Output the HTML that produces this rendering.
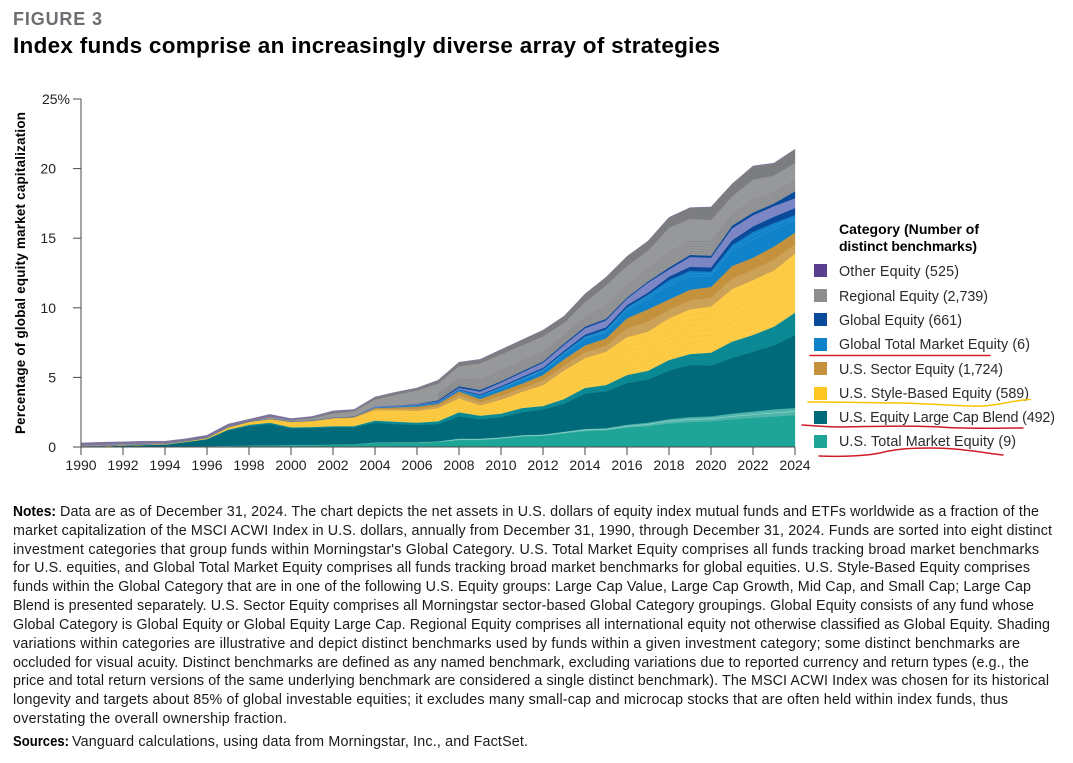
<!DOCTYPE html>
<html lang="en">
<head>
<meta charset="utf-8">
<title>Figure 3 - Index funds comprise an increasingly diverse array of strategies</title>
<style>
html,body{margin:0;padding:0;background:#fff;}
svg{display:block;font-family:"Liberation Sans",sans-serif;}
.n{font-size:14.3px;fill:#1a1a1a;}
.b{font-weight:bold;fill:#000;}
.l{font-size:14.3px;fill:#2a2a2a;}
.t{font-size:14px;fill:#222;}
</style>
</head>
<body>
<svg id="chart" width="1073" height="763" viewBox="0 0 1073 763" xmlns="http://www.w3.org/2000/svg">
  <rect width="1073" height="763" fill="#fff"/>
  <text x="13" y="25" font-size="18" font-weight="bold" fill="#6d6e71" textLength="89">FIGURE 3</text>
  <text x="13" y="53" font-size="22.5" font-weight="bold" fill="#000" textLength="707">Index funds comprise an increasingly diverse array of strategies</text>
  <text transform="translate(25,434) rotate(-90)" font-size="13.4" font-weight="bold" fill="#000" textLength="322">Percentage of global equity market capitalization</text>

  <g id="areas"></g>
  <g id="axes"></g>

  <g>
    <text x="839" y="234" font-size="14" font-weight="bold" fill="#000" textLength="140">Category (Number of</text>
    <text x="839" y="251" font-size="14" font-weight="bold" fill="#000" textLength="138">distinct benchmarks)</text>
    <rect x="814" y="264" width="13" height="13" fill="#5b3f8f"/>
    <text class="l" x="839" y="276" textLength="120">Other Equity (525)</text>
    <rect x="814" y="289" width="13" height="13" fill="#8c8d8f"/>
    <text class="l" x="839" y="301" textLength="149">Regional Equity (2,739)</text>
    <rect x="814" y="313" width="13" height="13" fill="#0a4a9a"/>
    <text class="l" x="839" y="325" textLength="123">Global Equity (661)</text>
    <rect x="814" y="338" width="13" height="13" fill="#0f82c9"/>
    <text class="l" x="839" y="349" textLength="191">Global Total Market Equity (6)</text>
    <rect x="814" y="362" width="13" height="13" fill="#c4923c"/>
    <text class="l" x="839" y="374" textLength="164">U.S. Sector Equity (1,724)</text>
    <rect x="814" y="387" width="13" height="13" fill="#fdc620"/>
    <text class="l" x="839" y="398" textLength="190">U.S. Style-Based Equity (589)</text>
    <rect x="814" y="411" width="13" height="13" fill="#006a7a"/>
    <text class="l" x="839" y="422" textLength="216">U.S. Equity Large Cap Blend (492)</text>
    <rect x="814" y="435" width="13" height="13" fill="#1fa598"/>
    <text class="l" x="839" y="446" textLength="177">U.S. Total Market Equity (9)</text>
  </g>

  <g fill="none" stroke-linecap="round" stroke-width="1.5">
    <path d="M810 355.5 C860 355 940 356 990 355.5" stroke="#d01c26"/>
    <path d="M808 402 C850 402 880 403 900 403 C940 404 970 407 983 406 C1000 405 1015 400 1030 399.5" stroke="#f7c400"/>
    <path d="M802 425 C815 426 825 427 840 427 C880 426 920 426 940 427 C960 429 1000 428 1023 428" stroke="#d01c26"/>
    <path d="M819 456 C840 457 865 456 880 453 C895 449 910 448 930 448 C960 448 985 453 1003 455" stroke="#d01c26"/>
  </g>

  <g>
    <text class="n b" x="13" y="516" textLength="43" lengthAdjust="spacingAndGlyphs">Notes:</text>
    <text class="n" x="60" y="516" textLength="979">Data are as of December 31, 2024. The chart depicts the net assets in U.S. dollars of equity index mutual funds and ETFs worldwide as a fraction of the</text>
    <text class="n" x="13" y="535" textLength="1039">market capitalization of the MSCI ACWI Index in U.S. dollars, annually from December 31, 1990, through December 31, 2024. Funds are sorted into eight distinct</text>
    <text class="n" x="13" y="554" textLength="1026">investment categories that group funds within Morningstar's Global Category. U.S. Total Market Equity comprises all funds tracking broad market benchmarks</text>
    <text class="n" x="13" y="572" textLength="1017">for U.S. equities, and Global Total Market Equity comprises all funds tracking broad market benchmarks for global equities. U.S. Style-Based Equity comprises</text>
    <text class="n" x="13" y="591" textLength="1018">funds within the Global Category that are in one of the following U.S. Equity groups: Large Cap Value, Large Cap Growth, Mid Cap, and Small Cap; Large Cap</text>
    <text class="n" x="13" y="610" textLength="1021">Blend is presented separately. U.S. Sector Equity comprises all Morningstar sector-based Global Category groupings. Global Equity consists of any fund whose</text>
    <text class="n" x="13" y="629" textLength="1037">Global Category is Global Equity or Global Equity Large Cap. Regional Equity comprises all international equity not otherwise classified as Global Equity. Shading</text>
    <text class="n" x="13" y="648" textLength="1007">variations within categories are illustrative and depict distinct benchmarks used by funds within a given investment category; some distinct benchmarks are</text>
    <text class="n" x="13" y="667" textLength="1016">occluded for visual acuity. Distinct benchmarks are defined as any named benchmark, excluding variations due to reported currency and return types (e.g., the</text>
    <text class="n" x="13" y="685" textLength="1036">price and total return versions of the same underlying benchmark are considered a single distinct benchmark). The MSCI ACWI Index was chosen for its historical</text>
    <text class="n" x="13" y="704" textLength="995">longevity and targets about 85% of global investable equities; it excludes many small-cap and microcap stocks that are often held within index funds, thus</text>
    <text class="n" x="13" y="723" textLength="274">overstating the overall ownership fraction.</text>
    <text class="n b" x="13" y="746" textLength="56" lengthAdjust="spacingAndGlyphs">Sources:</text>
    <text class="n" x="72" y="746" textLength="456">Vanguard calculations, using data from Morningstar, Inc., and FactSet.</text>
  </g>
</svg>
<script>
var years = [1990,1991,1992,1993,1994,1995,1996,1997,1998,1999,2000,2001,2002,2003,2004,2005,2006,2007,2008,2009,2010,2011,2012,2013,2014,2015,2016,2017,2018,2019,2020,2021,2022,2023,2024];
var yTickValues = [0,5,10,15,20,25];
var xTickValues = [1990,1992,1994,1996,1998,2000,2002,2004,2006,2008,2010,2012,2014,2016,2018,2020,2022,2024];

var totalMarketCore = [.02,.02,.02,.03,.03,.04,.05,.08,.1,.12, .15,.15,.17,.2,.3,.31,.33,.37,.5,.5, .6,.75,.8,.98,1.15,1.2,1.4,1.5,1.7,1.8, 1.85,2.0,2.1,2.2,2.3];
var totalMarketOther = [0,0,0,0,0,0,0,0,0,0, 0,0,0,0,.02,.02,.02,.03,.1,.1, .1,.1,.1,.12,.15,.15,.2,.25,.3,.35, .35,.4,.45,.5,.5];
var largeCapBlendCore = [.01,.04,.08,.12,.15,.31,.5,1.12,1.4,1.53, 1.2,1.22,1.25,1.22,1.43,1.32,1.25,1.25,1.6,1.4, 1.45,1.65,1.8,2.0,2.55,2.65,3.0,3.1,3.5,3.75, 3.65,4.0,4.3,4.6,5.25];
var largeCapBlendOther = [0,0,0,0,0,.02,.03,.05,.1,.1, .07,.07,.08,.08,.15,.17,.15,.2,.3,.25, .25,.3,.25,.35,.4,.45,.57,.63,.75,.78, .93,1.17,1.2,1.35,1.6];
var styleBased = [0,.01,.04,.03,.04,.05,.07,.15,.2,.25, .38,.41,.55,.6,.75,.83,.85,.95,1.0,.75, 1.0,1.17,1.5,2.05,2.15,2.4,2.73,2.82,3.0,3.22, 3.32,3.78,3.95,4.05,4.25];
var sector = [0,0,0,0,0,0,.01,.02,.03,.03, .03,.05,.05,.07,.15,.2,.3,.3,.5,.45, .6,.58,.72,.8,.9,.95,1.35,1.6,1.35,1.4, 1.4,1.65,1.6,1.7,1.5];
var globalTotalMarket = [0,0,0,0,0,0,0,0,0,0, 0,0,0,.01,.05,.05,.1,.1,.1,.25, .3,.4,.43,.5,.65,.65,.8,1.05,1.4,1.35, 1.1,1.5,1.85,1.7,1.27];
var globalEquityLower = [0,0,0,0,0,0,0,0,0,0, 0,0,0,0,0,0,.02,.03,.05,.08, .08,.1,.1,.12,.13,.15,.15,.15,.25,.3, .3,.35,.4,.45,.5];
var globalEquityMiddle = [.01,.01,.01,.01,.01,.01,.01,.01,.01,.01, .01,.01,.01,.02,.08,.05,.05,.05,.1,.2, .25,.3,.35,.4,.45,.5,.45,.7,.5,.7, .7,.85,.8,.75,.7];
var globalEquityUpper = [0,0,0,0,0,0,0,0,0,0, 0,0,0,0,0,.02,.03,.08,.12,.12, .1,.1,.1,.12,.12,.12,.1,.1,.15,.15, .15,.2,.2,.2,.5];
var regionalLower = [.09,.09,.08,.08,.06,.04,.04,.04,.02,.12, .09,.14,.29,.35,.47,.78,.95,1.19,1.43,1.9, 1.92,1.85,1.8,1.46,1.75,2.38,2.25,2.2,2.85,2.6, 2.55,2.1,2.35,2.0,2.03];
var regionalUpper = [0,0,0,0,0,0,0,0,0,0, 0,.07,.12,.08,.15,.16,.16,.21,.26,.26, .33,.38,.43,.48,.58,.58,.68,.68,.73,.78, .93,.87,.95,.86,.97];
var otherEquity = [.17,.18,.15,.15,.13,.13,.14,.18,.14,.19, .12,.08,.08,.07,.05,.04,.04,.04,.04,.04, .02,.02,.02,.02,.02,.02,.02,.02,.02,.02, .02,.03,.05,.04,.03];

var stackOrder = [totalMarketCore,totalMarketOther,largeCapBlendCore,largeCapBlendOther,styleBased,sector,globalTotalMarket,globalEquityLower,globalEquityMiddle,globalEquityUpper,regionalLower,regionalUpper,otherEquity];
var stackNames = ['area-total-market','area-total-market-other','area-large-cap-blend','area-large-cap-blend-other','area-style-based','area-sector','area-global-total-market','area-global-equity-lower','area-global-equity-middle','area-global-equity-upper','area-regional','area-regional-upper','area-other-equity'];
var stackColors = ['#1fa598','#4fb5aa','#006a7a','#0a8894','#fdcb45','#c4923c','#0f82c9','#0a4a9a','#7c86c4','#0a4a9a','#97989a','#7c7d7f','#7d7299'];
var shadeColors = [null,'#a5dcd5',null,null,'#f9c338',null,'#3a9ad6',null,null,null,'#7f8082',null,null];
var shadeFractions = [[],[.5],[],[],[.12,.25,.38,.5,.62,.75,.88],[],[.72,.86],[],[],[],[.04,.1,.17,.24,.31,.38],[],[]];
var shadeStartYear = [1990,1990,1990,1990,1990,1990,1990,1990,1990,1990,2007,1990,1990];
var lighterLowerColor = [null,null,null,null,null,'#cba258',null,null,null,null,null,null,null];

function xScale(year){ return 81 + (year - 1990) * (795 - 81) / 34; }
function yScale(v){ return 447 - v * (447 - 99) / 25; }

var NS = 'http://www.w3.org/2000/svg';
var areas = document.getElementById('areas');
var axes = document.getElementById('axes');
var base = years.map(function(){ return 0; });

function bandPath(lower, upper){
  var d = '';
  years.forEach(function(y, i){ d += (i ? 'L' : 'M') + xScale(y).toFixed(2) + ' ' + yScale(upper[i]).toFixed(2); });
  for (var i = years.length - 1; i >= 0; i--) { d += 'L' + xScale(years[i]).toFixed(2) + ' ' + yScale(lower[i]).toFixed(2); }
  return d + 'Z';
}

stackOrder.forEach(function(series, s){
  var top = base.map(function(b, i){ return b + series[i]; });
  var p = document.createElementNS(NS, 'path');
  p.setAttribute('d', bandPath(base, top));
  p.setAttribute('fill', stackColors[s]);
  p.setAttribute('stroke', stackColors[s]);
  p.setAttribute('stroke-width', '0.3');
  
  
  areas.appendChild(p);
  if (lighterLowerColor[s]) {
    var mid = base.map(function(b, i){ return b + series[i] * 0.45; });
    var q = document.createElementNS(NS, 'path');
    q.setAttribute('d', bandPath(base, mid));
    q.setAttribute('fill', lighterLowerColor[s]);
    
    
    areas.appendChild(q);
  }
  shadeFractions[s].forEach(function(f){
    var e = '', started = false;
    for (var j = 0; j < years.length; j++) {
      if (years[j] < shadeStartYear[s]) { continue; }
      e += (started ? 'L' : 'M') + xScale(years[j]).toFixed(2) + ' ' + yScale(base[j] + series[j] * f).toFixed(2);
      started = true;
    }
    var line = document.createElementNS(NS, 'path');
    line.setAttribute('d', e);
    line.setAttribute('fill', 'none');
    line.setAttribute('stroke', shadeColors[s]);
    line.setAttribute('stroke-width', '0.5');
    
    
    areas.appendChild(line);
  });
  base = top;
});

function addLine(x1, y1, x2, y2, name) {
  var l = document.createElementNS(NS, 'line');
  l.setAttribute('x1', x1); l.setAttribute('y1', y1);
  l.setAttribute('x2', x2); l.setAttribute('y2', y2);
  l.setAttribute('stroke', '#4a4a4a');
  l.setAttribute('stroke-width', '1');
  
  
  axes.appendChild(l);
}
function addText(x, y, anchor, str, name) {
  var t = document.createElementNS(NS, 'text');
  t.setAttribute('x', x); t.setAttribute('y', y);
  t.setAttribute('text-anchor', anchor);
  t.setAttribute('class', 't');
  
  
  t.textContent = str;
  axes.appendChild(t);
}

addLine(81, yScale(25), 81, yScale(0), 'y-axis-line');
addLine(81, yScale(0), 795, yScale(0), 'x-axis-line');
yTickValues.forEach(function(v){
  addLine(73, yScale(v), 81, yScale(v), 'y-axis-tick');
  if (v === 25) { addText(70, yScale(v) + 5, 'end', v + '%', 'y-tick-label'); }
  else { addText(56, yScale(v) + 5, 'end', String(v), 'y-tick-label'); }
});
xTickValues.forEach(function(y){
  addLine(xScale(y), 447, xScale(y), 455, 'x-axis-tick');
  addText(xScale(y), 470, 'middle', String(y), 'x-tick-label');
});
</script>
</body>
</html>
